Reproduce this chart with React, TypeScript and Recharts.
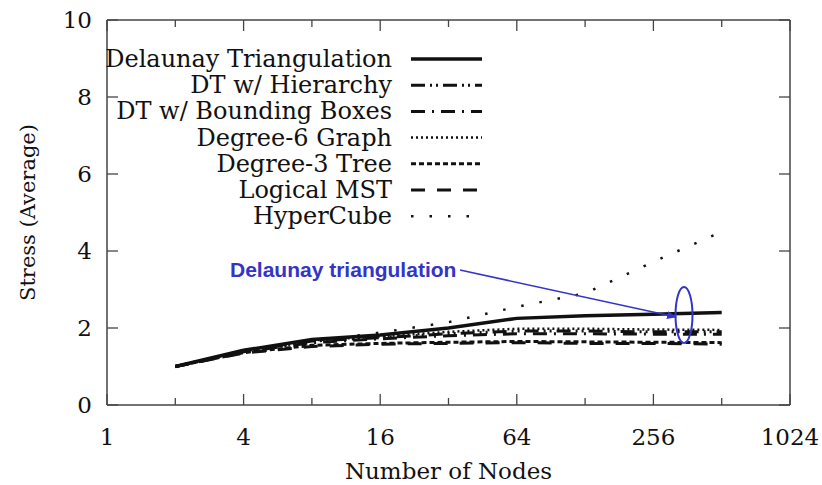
import { Legend, Line, LineChart, XAxis, YAxis } from "recharts"

const nodes = [2, 4, 8, 16, 32, 64, 128, 256, 512]
const delaunay = [1.0, 1.42, 1.7, 1.82, 2.0, 2.25, 2.32, 2.36, 2.4]
const dtHierarchy = [1.0, 1.4, 1.66, 1.75, 1.85, 1.92, 1.92, 1.9, 1.9]
const dtBoxes = [1.0, 1.38, 1.62, 1.72, 1.8, 1.85, 1.85, 1.84, 1.84]
const degree6 = [1.0, 1.41, 1.68, 1.78, 1.9, 1.98, 1.98, 1.96, 1.95]
const degree3 = [1.0, 1.36, 1.55, 1.6, 1.63, 1.65, 1.64, 1.63, 1.62]
const logicalMst = [1.0, 1.35, 1.52, 1.58, 1.6, 1.62, 1.6, 1.6, 1.58]
const hyperCube = [1.0, 1.41, 1.66, 1.88, 2.15, 2.55, 2.9, 3.72, 4.5]

const xTicks = [1, 2, 4, 8, 16, 32, 64, 128, 256, 512, 1024]
const xLabels = [1, 4, 16, 64, 256, 1024]
const yTicks = [0, 2, 4, 6, 8, 10]

const data = nodes.map((n, i) => ({
  n,
  delaunay: delaunay[i],
  dtHierarchy: dtHierarchy[i],
  dtBoxes: dtBoxes[i],
  degree6: degree6[i],
  degree3: degree3[i],
  logicalMst: logicalMst[i],
  hyperCube: hyperCube[i],
}))

const series = [
  { key: "delaunay", name: "Delaunay Triangulation", dash: undefined, width: 3.5 },
  { key: "dtHierarchy", name: "DT w/ Hierarchy", dash: "14 5 2 4 2 5", width: 3 },
  { key: "dtBoxes", name: "DT w/ Bounding Boxes", dash: "14 7 2 7", width: 3 },
  { key: "degree6", name: "Degree-6 Graph", dash: "2 3", width: 2.5 },
  { key: "degree3", name: "Degree-3 Tree", dash: "5 3", width: 3 },
  { key: "logicalMst", name: "Logical MST", dash: "14 12", width: 3 },
  { key: "hyperCube", name: "HyperCube", dash: "2.5 16", width: 2.5 },
]

const W = 822
const H = 485
const MARGIN = { top: 20, right: 32, left: 0, bottom: 0 }
const Y_AXIS_W = 107
const X_AXIS_H = 80
// plot box, derived from the chart margins and axis sizes (used for the frame only)
const BOX = { left: Y_AXIS_W, right: W - MARGIN.right, top: MARGIN.top, bottom: H - X_AXIS_H }

const FONT = "DejaVu Serif, serif"
const AXIS = "#444"
const serif = { fontFamily: FONT }

function BottomTick({ x, y, payload }: any) {
  const major = xLabels.includes(payload.value)
  return (
    <g>
      <line x1={x} x2={x} y1={y} y2={y - (major ? 11 : 7)} stroke={AXIS} strokeWidth={1.3} />
      {major && (
        <text x={x} y={y + 40} textAnchor="middle" style={serif} fontSize={23} fill="#111">
          {payload.value}
        </text>
      )}
    </g>
  )
}

function LeftTick({ x, y, payload }: any) {
  return (
    <g>
      <line x1={x} x2={x + 11} y1={y} y2={y} stroke={AXIS} strokeWidth={1.3} />
      <text x={x - 15} y={y + 8} textAnchor="end" style={serif} fontSize={23} fill="#111">
        {payload.value}
      </text>
    </g>
  )
}

function LegendBox() {
  return (
    <svg width={400} height={200} style={{ display: "block" }}>
      {series.map((s, i) => {
        const y = 21 + i * 26.2
        return (
          <g key={s.key}>
            <text x={297} y={y + 8} textAnchor="end" style={serif} fontSize={24} fill="#111">
              {s.name}
            </text>
            <line x1={316} x2={387} y1={y} y2={y} stroke="#111" strokeWidth={s.width} strokeDasharray={s.dash} />
          </g>
        )
      })}
    </svg>
  )
}

function Frame() {
  const bw = BOX.right - BOX.left
  const bh = BOX.bottom - BOX.top
  return (
    <g>
      <line x1={BOX.left} x2={BOX.right} y1={BOX.top} y2={BOX.top} stroke={AXIS} strokeWidth={1.5} />
      <line x1={BOX.right} x2={BOX.right} y1={BOX.top} y2={BOX.bottom} stroke={AXIS} strokeWidth={1.5} />
      {xTicks.map((t) => {
        const x = BOX.left + (bw * Math.log2(t)) / 10
        return (
          <line key={`t${t}`} x1={x} x2={x} y1={BOX.top} y2={BOX.top + (xLabels.includes(t) ? 11 : 7)} stroke={AXIS} strokeWidth={1.3} />
        )
      })}
      {yTicks.map((t) => {
        const y = BOX.bottom - (bh * t) / 10
        return <line key={`r${t}`} x1={BOX.right} x2={BOX.right - 11} y1={y} y2={y} stroke={AXIS} strokeWidth={1.3} />
      })}
    </g>
  )
}

export default function App() {
  return (
    <div style={{ position: "absolute", left: 0, top: 0, width: W, height: H, background: "#fff" }}>
      <LineChart width={W} height={H} data={data} margin={MARGIN}>
        <XAxis
          dataKey="n"
          type="number"
          scale="log"
          domain={[1, 1024]}
          ticks={xTicks}
          interval={0}
          tickSize={0}
          tickMargin={0}
          tickLine={false}
          tick={<BottomTick />}
          stroke={AXIS}
          strokeWidth={1.5}
          height={X_AXIS_H}
          allowDataOverflow
          label={{ value: "Number of Nodes", position: "insideBottom", offset: 6, style: serif, fontSize: 23, fill: "#111" }}
        />
        <YAxis
          type="number"
          domain={[0, 10]}
          ticks={yTicks}
          interval={0}
          tickSize={0}
          tickMargin={0}
          tickLine={false}
          tick={<LeftTick />}
          stroke={AXIS}
          strokeWidth={1.5}
          width={Y_AXIS_W}
          allowDataOverflow
          label={{ value: "Stress (Average)", angle: -90, position: "insideLeft", offset: 28, fontSize: 21, fill: "#111", style: { ...serif, textAnchor: "middle" } }}
        />
        <Legend
          layout="vertical"
          align="center"
          verticalAlign="middle"
          content={() => <LegendBox />}
          wrapperStyle={{ top: 38, left: 95, width: 400, height: 200 }}
        />
        {series.map((s) => (
          <Line
            key={s.key}
            dataKey={s.key}
            name={s.name}
            type="linear"
            stroke="#111"
            strokeWidth={s.width}
            strokeDasharray={s.dash}
            dot={false}
            activeDot={false}
            isAnimationActive={false}
          />
        ))}
      </LineChart>
      <svg width={W} height={H} style={{ position: "absolute", left: 0, top: 0, pointerEvents: "none" }}>
        <defs>
          <marker id="arr" markerWidth="10" markerHeight="8" refX="9" refY="4" orient="auto" markerUnits="userSpaceOnUse">
            <path d="M0,0 L10,4 L0,8 z" fill="#3434c8" />
          </marker>
        </defs>
        <Frame />
        <text x={230} y={277} style={{ fontFamily: "Liberation Sans, Arial, sans-serif", fontWeight: 700 }} fontSize={21} fill="#3434c8">
          Delaunay triangulation
        </text>
        <line x1={460} y1={270} x2={676} y2={317} stroke="#3434c8" strokeWidth={1.5} markerEnd="url(#arr)" />
        <ellipse cx={684} cy={315} rx={8.5} ry={28} fill="none" stroke="#3434c8" strokeWidth={2} />
      </svg>
    </div>
  )
}
